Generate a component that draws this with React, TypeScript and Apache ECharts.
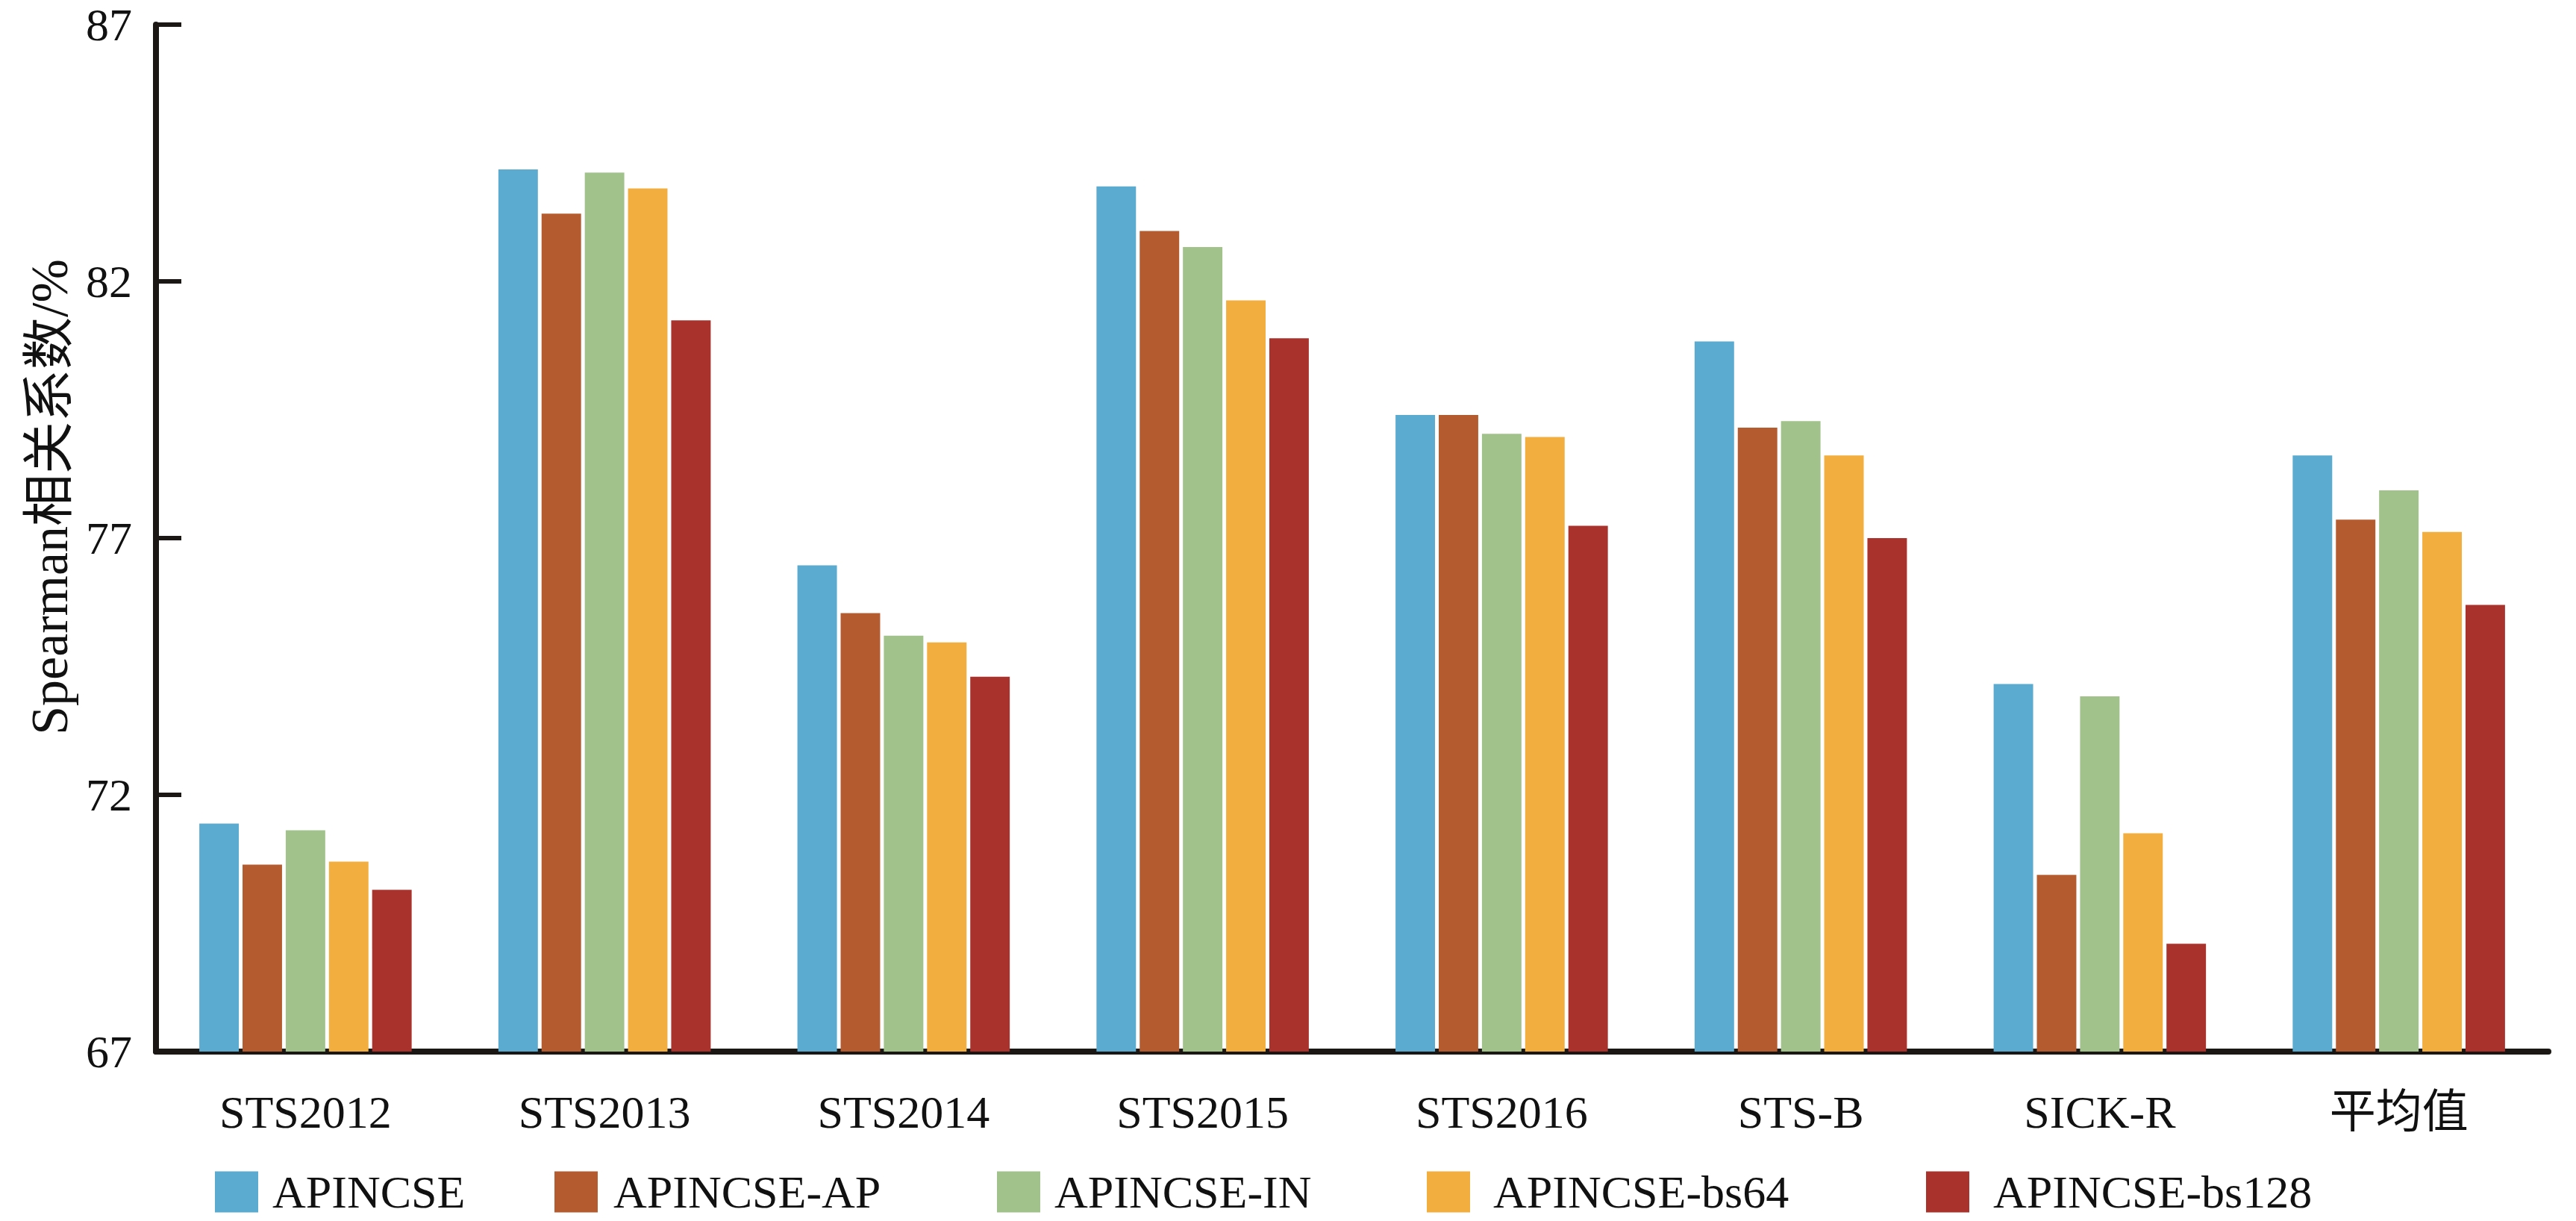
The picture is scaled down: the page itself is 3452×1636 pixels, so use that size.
import React, { useEffect, useRef } from "react";
import * as echarts from "echarts";

const categories = ["STS2012", "STS2013", "STS2014", "STS2015", "STS2016", "STS-B", "SICK-R", "平均值"];
const seriesNames = ["APINCSE", "APINCSE-AP", "APINCSE-IN", "APINCSE-bs64", "APINCSE-bs128"];
const apincse = [71.44, 84.18, 76.47, 83.85, 79.40, 80.83, 74.16, 78.61];
const apincseAP = [70.64, 83.32, 75.54, 82.98, 79.40, 79.15, 70.44, 77.36];
const apincseIN = [71.31, 84.12, 75.10, 82.67, 79.03, 79.28, 73.92, 77.93];
const apincseBs64 = [70.70, 83.81, 74.97, 81.63, 78.97, 78.61, 71.25, 77.12];
const apincseBs128 = [70.15, 81.24, 74.30, 80.89, 77.24, 77.00, 69.10, 75.70];
const yTicks = { min: 67, max: 87, interval: 5 };
const colors = ["#5BAAD0", "#B45C30", "#A1C28A", "#F2AE3E", "#AA322D"];
const legendLefts = [288, 743, 1336, 1912, 2581];
const legendTextPads = [14, 16, 14, 26, 27];

const FONT = "'Liberation Serif', 'Noto Sans CJK SC', serif";

export default function App() {
  const ref = useRef<HTMLDivElement>(null);
  useEffect(() => {
    if (!ref.current) return;
    const chart = echarts.init(ref.current, null, { renderer: "svg" });
    const data = [apincse, apincseAP, apincseIN, apincseBs64, apincseBs128];
    chart.setOption({
      animation: false,
      backgroundColor: "#ffffff",
      color: colors,
      grid: { left: 209, right: 37, top: 33, bottom: 227, containLabel: false },
      legend: seriesNames.map((name, i) => ({
        data: [name],
        left: legendLefts[i],
        top: 1566,
        padding: 0,
        itemWidth: 58,
        itemHeight: 55,
        icon: "rect",
        textStyle: {
          fontFamily: FONT,
          fontSize: 62,
          color: "#111",
          padding: [0, 0, 0, legendTextPads[i]],
        },
      })),
      xAxis: {
        type: "category",
        data: categories,
        axisLine: { show: true, lineStyle: { color: "#1a1714", width: 8 } },
        axisTick: { show: false },
        axisLabel: { fontFamily: FONT, fontSize: 62, color: "#111", margin: 50 },
      },
      yAxis: {
        type: "value",
        min: yTicks.min,
        max: yTicks.max,
        interval: yTicks.interval,
        name: "Spearman相关系数/%",
        nameLocation: "middle",
        nameGap: 108,
        nameTextStyle: { fontFamily: FONT, fontSize: 70, color: "#111", padding: [0, 0, 0, 110] },
        axisLine: { show: true, lineStyle: { color: "#1a1714", width: 8 } },
        axisTick: { show: true, inside: true, length: 34, lineStyle: { color: "#1a1714", width: 6 } },
        axisLabel: { fontFamily: FONT, fontSize: 62, lineHeight: 58, color: "#111", margin: 32 },
        splitLine: { show: false },
      },
      series: seriesNames.map((name, i) => ({
        name,
        type: "bar",
        data: data[i],
        barGap: "9.4%",
        barCategoryGap: "29%",
        itemStyle: { color: colors[i] },
      })),
    });
    return () => chart.dispose();
  }, []);
  return (
    <div
      ref={ref}
      style={{ position: "absolute", left: 0, top: 0, width: 3452, height: 1636, background: "#fff" }}
    />
  );
}
